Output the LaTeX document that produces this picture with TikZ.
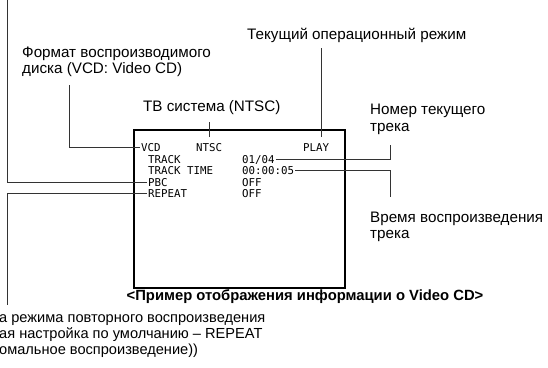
\documentclass[tikz,border=0pt]{standalone}
\usepackage{fontspec}
\setmainfont{Liberation Sans}
\newfontfamily\osdfont{DejaVu Sans Mono}
\begin{document}
\begin{tikzpicture}[x=1pt,y=-1pt,
    txt/.style={inner sep=0pt, anchor=base west, font=\fontsize{15.2}{18}\selectfont},
    small/.style={inner sep=0pt, anchor=base west, font=\fontsize{14.6}{17}\selectfont},
    osd/.style={inner sep=1pt, anchor=base west, font=\osdfont\fontsize{10.8}{12}\selectfont, text height=7.8pt, text depth=0pt},
    lead/.style={line width=0.9pt, black!80}]
    \useasboundingbox (0,0) rectangle (548,367);
    % screen
    \draw[line width=2pt] (134,130) rectangle (345,288);
    \node[osd] (vcd) at (140,151) {VCD};
    \node[osd] (ntsc) at (195,151) {NTSC};
    \node[osd] (play) at (302,151) {PLAY};
    \node[osd] (trk0) at (147,163) {TRACK};
    \node[osd] (trk) at (241,163) {01/04};
    \node[osd] (tim0) at (147,174) {TRACK TIME};
    \node[osd] (tim) at (241,174) {00:00:05};
    \node[osd] (pbc) at (147,186) {PBC};
    \node[osd] (pbcv) at (241,186) {OFF};
    \node[osd] (rpt) at (147,197) {REPEAT};
    \node[osd] (rptv) at (241,197) {OFF};
    % labels
    \node[txt] (mode) at (247,39) {Текущий операционный режим};
    \node[txt] (fmt1) at (22,57) {Формат воспроизводимого};
    \node[txt] (fmt2) at (22,73) {диска (VCD: Video CD)};
    \node[txt] (tv) at (143,111) {ТВ система (NTSC)};
    \node[txt] (num1) at (370,114) {Номер текущего};
    \node[txt] (num2) at (370,131) {трека};
    \node[txt] (time1) at (370,222) {Время воспроизведения};
    \node[txt] (time2) at (370,238) {трека};
    \node[txt, font=\bfseries\fontsize{14.8}{17}\selectfont, anchor=base] (cap) at (305,300)
        {<Пример отображения информации о Video CD>};
    \node[small] (rep1) at (-1,322) {а режима повторного воспроизведения};
    \node[small] (rep2) at (-1,338) {ая настройка по умолчанию -- REPEAT};
    \node[small] (rep3) at (-1,354) {омальное воспроизведение))};
    % leaders
    \coordinate (pbctop) at (7,0);
    \coordinate (rptend) at (7,305);
    \coordinate (fmtend) at (69,85);
    \coordinate (modeend) at (321,48);
    \coordinate (trkend) at (390,145);
    \coordinate (timend) at (390,197);
    \draw[lead] (pbc.west) -| (pbctop);
    \draw[lead] (rpt.west) -| (rptend);
    \draw[lead] (vcd.west) -| (fmtend);
    \draw[lead] ([yshift=5pt]ntsc.north) -- ([yshift=-8pt]ntsc.north |- tv.south);
    \draw[lead] (modeend) -- ([yshift=5pt]modeend |- play.north);
    \draw[lead] (trk.east) -| (trkend);
    \draw[lead] (tim.east) -| (timend);
\end{tikzpicture}
\end{document}
